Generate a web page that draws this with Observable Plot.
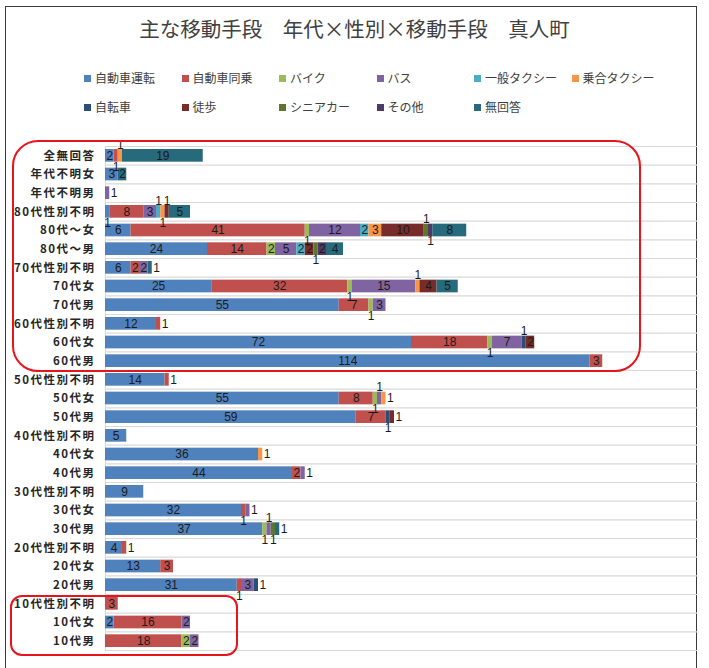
<!DOCTYPE html>
<html>
<head>
<meta charset="utf-8">
<script src="https://cdn.jsdelivr.net/npm/d3@7"></script>
<script src="https://cdn.jsdelivr.net/npm/@observablehq/plot@0.6"></script>
<style>
  html, body { margin: 0; padding: 0; background: #fff; }
  #wrap { position: relative; width: 709px; height: 668px; overflow: hidden; font-family: "Noto Sans CJK JP", sans-serif; }
  #frame { position: absolute; left: 5px; top: 6px; width: 692px; height: 680px; border: 1.5px solid #3a3a3a; box-sizing: border-box; }
  #title { position: absolute; left: 0; top: 13px; width: 709px; text-align: center; font-size: 20.5px; color: #404040; }
  .leg { position: absolute; font-size: 12px; color: #404040; white-space: nowrap; line-height: 14px; }
  .leg i { display: inline-block; width: 7px; height: 7px; margin-right: 4px; vertical-align: 1px; }
  #chart { position: absolute; left: 0; top: 140px; }
  #chart svg g[aria-label="y-axis tick label"] text { font-weight: 700; letter-spacing: 1.5px; }
  .hl { position: absolute; border: 2.5px solid #e8141c; box-sizing: border-box; pointer-events: none; }
</style>
</head>
<body>
<div id="wrap">
  <div id="frame"></div>
  <div id="title">主な移動手段　年代×性別×移動手段　真人町</div>
  <div id="legend"></div>
  <div id="chart"></div>
  <div class="hl" style="left:12px;top:140px;width:629px;height:232px;border-radius:26px;"></div>
  <div class="hl" style="left:10px;top:595px;width:228px;height:61px;border-radius:12px;"></div>
</div>
<script>
const categories = ["全無回答","年代不明女","年代不明男","80代性別不明","80代～女","80代～男",
  "70代性別不明","70代女","70代男","60代性別不明","60代女","60代男",
  "50代性別不明","50代女","50代男","40代性別不明","40代女","40代男",
  "30代性別不明","30代女","30代男","20代性別不明","20代女","20代男",
  "10代性別不明","10代女","10代男"];
const modes = ["自動車運転","自動車同乗","バイク","バス","一般タクシー","乗合タクシー","自転車","徒歩","シニアカー","その他","無回答"];
const modeColors = ["#4F81BD","#C0504D","#9BBB59","#8064A2","#4BACC6","#F79646","#2C4D75","#772C2A","#5F7530","#4D3B62","#276A7C"];

const carDrive   = [2,3,0,1,6,24,6,25,55,12,72,114,14,55,59,5,36,44,9,32,37,4,13,31,0,2,0];
const carRide    = [1,0,0,8,41,14,2,32,7,1,18,3,1,8,7,0,0,2,0,1,0,1,3,1,3,16,18];
const bike       = [0,0,0,0,1,2,0,1,1,0,1,0,0,1,0,0,0,0,0,0,1,0,0,0,0,0,2];
const bus        = [0,0,1,3,12,5,2,15,3,0,7,0,0,1,0,0,0,1,0,1,1,0,0,3,0,2,2];
const taxi       = [0,0,0,1,2,2,0,0,0,0,0,0,0,0,0,0,0,0,0,0,0,0,0,0,0,0,0];
const shareTaxi  = [1,0,0,1,3,0,0,1,0,0,0,0,0,1,0,0,1,0,0,0,0,0,0,0,0,0,0];
const bicycle    = [0,0,0,0,0,0,0,0,0,0,1,0,0,0,1,0,0,0,0,0,0,0,0,1,0,0,0];
const walk       = [0,0,0,1,10,2,0,4,0,0,2,0,0,0,1,0,0,0,0,0,0,0,0,0,0,0,0];
const seniorCar  = [0,0,0,0,1,1,0,0,0,0,0,0,0,0,0,0,0,0,0,0,1,0,0,0,0,0,0];
const other      = [0,0,0,0,1,2,0,0,0,0,0,0,0,0,0,0,0,0,0,0,0,0,0,0,0,0,0];
const noAnswer   = [19,2,0,5,8,4,1,5,0,0,0,0,0,0,0,0,0,0,0,0,1,0,0,0,0,0,0];

const series = [carDrive, carRide, bike, bus, taxi, shareTaxi, bicycle, walk, seniorCar, other, noAnswer];

// build a tidy table; decide where each value label goes
const data = [];
categories.forEach((cat, i) => {
  const segs = [];
  modes.forEach((m, j) => { if (series[j][i] > 0) segs.push({cat, mode: m, value: series[j][i]}); });
  let alt = 0;
  segs.forEach((s, k) => {
    if (s.value >= 2) s.pos = "in";
    else if (k === segs.length - 1) s.pos = "right";
    else { s.pos = alt % 2 === 0 ? "down" : "up"; alt++; }
    data.push(s);
  });
});

// legend
const legend = document.getElementById("legend");
modes.forEach((m, j) => {
  const row = j < 6 ? 0 : 1, col = j < 6 ? j : j - 6;
  const el = document.createElement("div");
  el.className = "leg";
  el.style.left = (84 + col * 97.5) + "px";
  el.style.top = (row === 0 ? 71 : 100) + "px";
  el.innerHTML = `<i style="background:${modeColors[j]}"></i>${m}`;
  legend.appendChild(el);
});

const H = 522, MT = 6, MB = 12;
const step = (H - MT - MB) / categories.length;
const labelFont = {fontFamily: "Liberation Sans, Arial, sans-serif", fontSize: 12, fill: "#1b1b1b"};

const chart = Plot.plot({
  width: 709,
  height: H,
  marginLeft: 105,
  marginRight: 12,
  marginTop: MT,
  marginBottom: MB,
  style: {fontFamily: "Noto Sans CJK JP, sans-serif", fontSize: "11.5px", color: "#262626", background: "transparent", overflow: "visible"},
  x: {domain: [0, 139.3], axis: null},
  y: {domain: categories, paddingInner: 0.32, paddingOuter: 0.16, round: false, tickSize: 0, tickPadding: 10, label: null},
  color: {domain: modes, range: modeColors},
  marks: [
    Plot.ruleY(categories, {y: d => d, dy: -step / 2, stroke: "#d9d9d9", strokeWidth: 1.2}),
    Plot.ruleY(categories.slice(-1), {y: d => d, dy: step / 2, stroke: "#d9d9d9", strokeWidth: 1.2}),
    Plot.ruleX([0], {stroke: "#d9d9d9"}),
    Plot.barX(data, Plot.stackX({x: "value", y: "cat", fill: "mode"})),
    Plot.text(data, Plot.stackX({x: "value", y: "cat", text: d => d.pos === "in" ? String(d.value) : "", ...labelFont})),
    Plot.text(data, Plot.stackX({x: "value", y: "cat", text: d => d.pos === "up" ? String(d.value) : "", dy: -11, ...labelFont})),
    Plot.text(data, Plot.stackX({x: "value", y: "cat", text: d => d.pos === "down" ? String(d.value) : "", dy: 11, ...labelFont})),
    Plot.text(data, Plot.stackX2({x: "value", y: "cat", text: d => d.pos === "right" ? String(d.value) : "", dx: 1, textAnchor: "start", ...labelFont}))
  ]
});
document.getElementById("chart").appendChild(chart);
</script>
</body>
</html>
